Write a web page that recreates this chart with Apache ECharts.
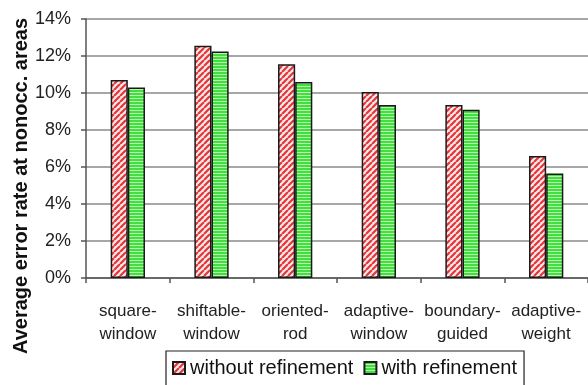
<!DOCTYPE html>
<html>
<head>
<meta charset="utf-8">
<script src="https://cdn.jsdelivr.net/npm/echarts@6/dist/echarts.min.js"></script>
<style>
html,body{margin:0;padding:0;background:#fff;}
#chart{width:588px;height:385px;}
</style>
</head>
<body>
<div id="chart"></div>
<script>
// Methods compared
const categories = ['square-\nwindow', 'shiftable-\nwindow', 'oriented-\nrod', 'adaptive-\nwindow', 'boundary-\nguided', 'adaptive-\nweight'];
// Average error rate at non-occluded areas (%)
const withoutRefinement = [10.7, 12.55, 11.55, 10.05, 9.35, 6.6];
const withRefinement = [10.3, 12.25, 10.6, 9.35, 9.1, 5.65];
const yTicks = [0, 2, 4, 6, 8, 10, 12, 14];
const yTitle = 'Average error rate at nonocc. areas';

// Hatch fills drawn onto small tiles
function diagonalHatch() {
  const c = document.createElement('canvas');
  c.width = 6; c.height = 6;
  const g = c.getContext('2d');
  g.fillStyle = '#fde8e8';
  g.fillRect(0, 0, 6, 6);
  g.strokeStyle = '#e3363b';
  g.lineWidth = 2.2;
  g.beginPath();
  for (let k = -6; k <= 12; k += 6) {
    g.moveTo(k, 6); g.lineTo(k + 6, 0);
  }
  g.stroke();
  return c;
}
function horizontalHatch() {
  const c = document.createElement('canvas');
  c.width = 4; c.height = 3;
  const g = c.getContext('2d');
  g.fillStyle = '#3fe03f';
  g.fillRect(0, 0, 4, 3);
  g.fillStyle = '#b8f7ac';
  g.fillRect(0, 2, 4, 1);
  return c;
}
const redFill = { image: diagonalHatch(), repeat: 'repeat' };
const greenFill = { image: horizontalHatch(), repeat: 'repeat' };

const chart = echarts.init(document.getElementById('chart'));
const font = 'Liberation Sans, Arial, sans-serif';
chart.setOption({
  animation: false,
  textStyle: { fontFamily: font },
  grid: { left: 86, top: 19, width: 504, height: 259, containLabel: false },
  graphic: [{
    type: 'text',
    x: 21, y: 186,
    rotation: Math.PI / 2,
    style: {
      text: yTitle,
      font: 'bold 20px ' + font,
      fill: '#111',
      align: 'center',
      verticalAlign: 'middle'
    }
  }],
  legend: {
    left: 166, top: 351,
    padding: [7, 7, 14, 6],
    itemGap: 10,
    itemWidth: 12, itemHeight: 12,
    borderColor: '#222', borderWidth: 1.2, borderRadius: 0,
    icon: 'rect',
    textStyle: { fontSize: 20, color: '#111', fontFamily: font },
    data: ['without refinement', 'with refinement']
  },
  xAxis: {
    type: 'category',
    data: categories,
    axisLine: { lineStyle: { color: '#555', width: 1.5 } },
    axisTick: { show: true, length: 5, lineStyle: { color: '#555', width: 1.5 } },
    axisLabel: { fontSize: 17, color: '#222', lineHeight: 23, margin: 22, interval: 0 }
  },
  yAxis: {
    type: 'value',
    min: 0, max: 14, interval: 2,
    axisLine: { show: true, lineStyle: { color: '#555', width: 1.5 } },
    axisTick: { show: true, length: 5, lineStyle: { color: '#555', width: 1.5 } },
    splitLine: { lineStyle: { color: '#8a8a8a', width: 1.5 } },
    axisLabel: {
      fontSize: 18, color: '#222', margin: 15,
      formatter: v => (yTicks.includes(v) ? v + '%' : '')
    }
  },
  series: [
    {
      name: 'without refinement', type: 'bar', data: withoutRefinement,
      barGap: '0%', barCategoryGap: '59%',
      itemStyle: { color: redFill, borderColor: '#1a1a1a', borderWidth: 1.5 }
    },
    {
      name: 'with refinement', type: 'bar', data: withRefinement,
      itemStyle: { color: greenFill, borderColor: '#1a1a1a', borderWidth: 1.5 }
    }
  ]
});
</script>
</body>
</html>
